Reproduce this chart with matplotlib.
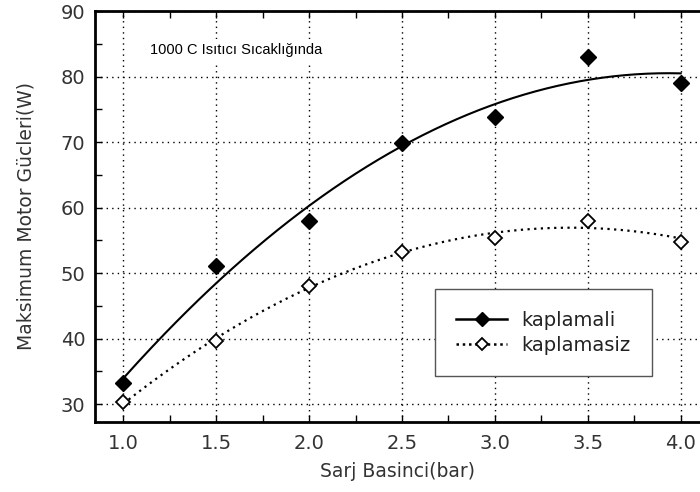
import numpy as np
import matplotlib
matplotlib.use("Agg")
import matplotlib.pyplot as plt

# Sarj basinci (bar) ve maksimum motor gucleri (W)
basinc = [1.0, 1.5, 2.0, 2.5, 3.0, 3.5, 4.0]
kaplamali = [33.2, 51.0, 58.0, 69.8, 73.8, 83.0, 79.0]
kaplamasiz = [30.3, 39.6, 48.0, 53.2, 55.4, 58.0, 54.8]
x_ticks = [1.0, 1.5, 2.0, 2.5, 3.0, 3.5, 4.0]
y_ticks = [30, 40, 50, 60, 70, 80, 90]

plt.rcParams['font.family'] = ['DejaVu Sans']

fig = plt.figure(figsize=(7, 4.92), dpi=100)
ax = fig.add_axes([0.1357, 0.1429, 0.8643, 0.8347])

# quadratic trend lines through the measured points
xs = np.linspace(basinc[0], basinc[-1], 200)
fit1 = np.poly1d(np.polyfit(basinc, kaplamali, 2))
fit2 = np.poly1d(np.polyfit(basinc, kaplamasiz, 2))

ax.plot(xs, fit1(xs), color="black", lw=1.5, zorder=3)
ax.plot(xs, fit2(xs), color="black", lw=1.6, ls=(0, (1, 2)), zorder=3)
ax.plot(basinc, kaplamali, ls="none", marker="D", ms=8, color="black", zorder=4)
ax.plot(basinc, kaplamasiz, ls="none", marker="D", ms=7.5, mfc="white",
        mec="black", mew=1.3, zorder=4)

# legend handles (line + marker)
ax.plot([], [], color="black", lw=1.8, marker="D", ms=7, label="kaplamali")
ax.plot([], [], color="black", lw=1.8, ls=(0, (1, 1.5)), marker="D", ms=6.5,
        mfc="white", mec="black", mew=1.3, label="kaplamasiz")
handles, labels = ax.get_legend_handles_labels()
leg = ax.legend(handles, labels, loc="upper left", bbox_to_anchor=(0.562, 0.322),
                fontsize=14, frameon=True, fancybox=False, framealpha=1,
                edgecolor="#555555", handlelength=2.6, borderpad=1.1,
                labelspacing=0.3, handletextpad=0.75, borderaxespad=0)
leg.get_frame().set_linewidth(1.0)
leg.set_zorder(5)
for t in leg.get_texts():
    t.set_color("#222222")

ax.set_xlim(0.847, 4.104)
ax.set_ylim(27.3, 90)
ax.set_xticks(x_ticks)
ax.set_xticklabels(["%.1f" % v for v in x_ticks])
ax.set_yticks(y_ticks)
ax.set_xticks(np.arange(1.25, 4.0, 0.5), minor=True)
ax.set_yticks(np.arange(35, 90, 10), minor=True)
ax.tick_params(which="both", direction="in", length=5, width=1,
               top=True, labelsize=14, colors="black", pad=7)
ax.tick_params(axis="x", pad=9)
ax.tick_params(labelcolor="#333333")

ax.grid(True, which="major", color="black", ls=(0, (1, 3)), lw=1)
ax.set_axisbelow(True)

for s in ["left", "bottom", "top"]:
    ax.spines[s].set_linewidth(2)
ax.spines["right"].set_visible(False)

ax.text(1.143, 84.0, "1000 C Isıtıcı Sıcaklığında", fontsize=10.5, va="center",
        ha="left", family="Liberation Sans",
        bbox=dict(facecolor="white", edgecolor="none", pad=3))

ax.set_xlabel("Sarj Basinci(bar)", fontsize=13.5, color="#333333", labelpad=6)
ax.set_ylabel("Maksimum Motor Gücleri(W)", fontsize=13.5, color="#333333",
              labelpad=18)

fig.savefig("out.png", dpi=100)
